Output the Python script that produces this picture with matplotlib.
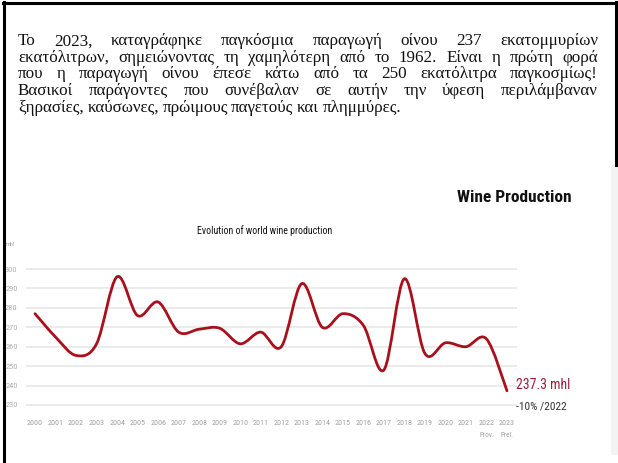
import numpy as np
import matplotlib.pyplot as plt
from matplotlib.path import Path
from matplotlib.patches import PathPatch, Rectangle
from matplotlib.lines import Line2D

# data
years = list(range(2000, 2024))
production = [277, 265, 255.5, 261.5, 296, 276, 283, 267.5, 269, 269.5, 261.5, 267.5,
              260, 292.5, 270, 277, 271, 248, 295, 256.5, 262, 260, 264, 237.3]
yticks = [230, 240, 250, 260, 270, 280, 290, 300]
year_notes = {2022: 'Prov.', 2023: 'Prel.'}

title = 'Wine Production'
subtitle = 'Evolution of world wine production'
unit = 'mhl'
last_value = '237.3 mhl'
last_change = '-10% /2022'

paragraph = [
    'Το 2023, καταγράφηκε παγκόσμια παραγωγή οίνου 237 εκατομμυρίων',
    'εκατόλιτρων, σημειώνοντας τη χαμηλότερη από το 1962. Είναι η πρώτη φορά',
    'που η παραγωγή οίνου έπεσε κάτω από τα 250 εκατόλιτρα παγκοσμίως!',
    'Βασικοί παράγοντες που συνέβαλαν σε αυτήν την ύφεση περιλάμβαναν',
    'ξηρασίες, καύσωνες, πρώιμους παγετούς και πλημμύρες.',
]

W, H = 618, 463
def fx(x):
    return x / W
def fy(y):
    return 1 - y / H

cond = dict(family=['Roboto Condensed', 'DejaVu Sans'], fontstretch='condensed')
serif = ['Liberation Serif', 'DejaVu Serif']
red = '#a8101c'

fig = plt.figure(figsize=(W / 100, H / 100), dpi=100)
fig.patch.set_facecolor('white')
renderer = fig.canvas.get_renderer()

def width_of(t):
    return t.get_window_extent(renderer).width

def fit(t, target):
    # scale the font so the text is about as wide as in the picture
    t.set_fontsize(t.get_fontsize() * target / width_of(t))

# ---- paragraph, justified by hand
left_px, right_px = 18, 598
base0, step = 45.3, 16.6
probe = fig.text(0, 0, paragraph[1], family=serif, fontsize=12)
fit(probe, right_px - left_px)
fs_par = probe.get_fontsize() * 0.92
probe.remove()
for i, line in enumerate(paragraph):
    words = line.split(' ')
    ts = [fig.text(0, fy(base0 + i * step), w, family=serif, fontsize=fs_par,
                   ha='left', va='baseline', color='#111111') for w in words]
    widths = [width_of(t) for t in ts]
    if i < len(paragraph) - 1:
        gap = (right_px - left_px - sum(widths)) / (len(words) - 1)
    else:
        gap = 3.5
    x = left_px
    for t, w in zip(ts, widths):
        t.set_x(fx(x))
        x += w + gap

# ---- chart
ppu = (405 - 269) / 70.0
ppy = (507 - 35) / 23.0
ax_l, ax_r, ax_t, ax_b = 26, 517, 240, 415
ax = fig.add_axes([fx(ax_l), fy(ax_b), (ax_r - ax_l) / W, (ax_b - ax_t) / H])
ax.set_ylim(230 - (ax_b - 405) / ppu, 230 + (405 - ax_t) / ppu)
ax.set_xlim(2000 + (ax_l - 35) / ppy, 2000 + (ax_r - 35) / ppy)
ax.patch.set_alpha(0)
for s in ax.spines.values():
    s.set_visible(False)
ax.set_yticks(yticks)
ax.set_yticklabels([str(v) for v in yticks], fontsize=6, color='#b0b0b0', **cond)
ax.set_xticks(years)
ax.set_xticklabels([str(y) for y in years], fontsize=5.8, color='#a0a0a0', **cond)
ax.tick_params(axis='y', length=0, pad=6)
ax.tick_params(axis='x', length=0, pad=3.5)
ax.grid(axis='y', color='#e6e6e6', lw=1.1)
ax.set_axisbelow(True)
for yr, note in year_notes.items():
    ax.text(yr, -0.115, note, transform=ax.get_xaxis_transform(), fontsize=5.2,
            color='#a0a0a0', ha='center', va='center', **cond)

# smooth line through the points (Catmull-Rom as bezier segments)
pts = np.column_stack([years, production]).astype(float)
n = len(pts)
verts = [pts[0]]
codes = [Path.MOVETO]
for i in range(n - 1):
    p0 = pts[max(i - 1, 0)]
    p1 = pts[i]
    p2 = pts[i + 1]
    p3 = pts[min(i + 2, n - 1)]
    verts += [p1 + (p2 - p0) / 6, p2 - (p3 - p1) / 6, p2]
    codes += [Path.CURVE4] * 3
ax.add_patch(PathPatch(Path(verts, codes), fill=False, edgecolor=red, lw=2.0,
                       capstyle='round', joinstyle='round'))

# ---- chart texts
t = fig.text(fx(514), fy(197), title, fontsize=12, fontweight='bold',
             ha='center', va='center', color='#111111', **cond)
fit(t, 115)
t = fig.text(fx(265), fy(231), subtitle, fontsize=7, ha='center', va='center',
             color='#111111', **cond)
fit(t, 136)
fig.text(fx(6), fy(245), unit, fontsize=4.5, ha='left', va='center',
         color='#a8a8a8', **cond)
t = fig.text(fx(516), fy(385), last_value, fontsize=10, ha='left', va='center',
             color='#9e1b3a', **cond)
fit(t, 54)
t = fig.text(fx(516), fy(407), last_change, fontsize=8, ha='left', va='center',
             color='#333333', **cond)
fit(t, 51)

# ---- frame and the faint shadow of the pasted chart
fig.patches.append(Rectangle((fx(611), fy(455)), 7 / W, (455 - 165) / H,
                             transform=fig.transFigure, facecolor='#f3f3f3',
                             edgecolor='none', zorder=1))
fig.lines.append(Line2D([fx(3.5), fx(3.5)], [fy(2), fy(463)], transform=fig.transFigure,
                        color='black', lw=2.2, zorder=5))
fig.lines.append(Line2D([fx(2.5), fx(615.5)], [fy(3), fy(3)], transform=fig.transFigure,
                        color='black', lw=2.2, zorder=5))
fig.lines.append(Line2D([fx(615.5), fx(615.5)], [fy(2), fy(165)], transform=fig.transFigure,
                        color='black', lw=2.2, zorder=5))

fig.savefig('out.png', dpi=100)
